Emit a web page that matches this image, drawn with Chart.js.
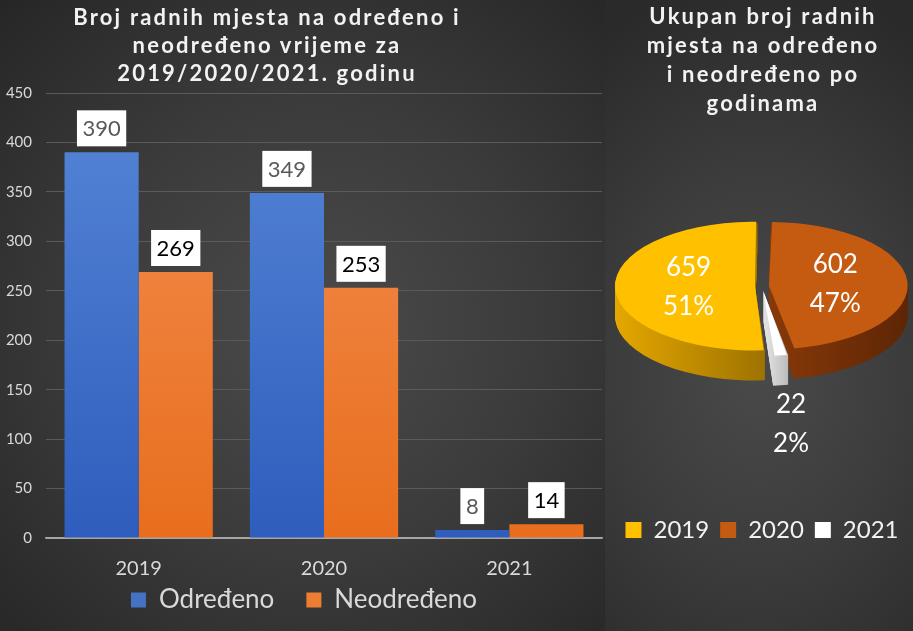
<!DOCTYPE html>
<html><head><meta charset="utf-8">
<script src="https://cdn.jsdelivr.net/npm/chart.js@4.4.1/dist/chart.umd.min.js"></script>
<style>
html,body{margin:0;padding:0;background:#2a2a2a;}
#wrap{position:relative;width:913px;height:631px;overflow:hidden;font-family:Lato,sans-serif;}
#left{position:absolute;left:0;top:0;width:605px;height:631px;background:radial-gradient(ellipse 75% 72% at 52% 52%, #4b4b4b 0%, #3b3b3b 50%, #262626 100%);}
#right{position:absolute;left:605px;top:0;width:308px;height:631px;background:radial-gradient(ellipse 95% 62% at 50% 58%, #4a4a4a 0%, #3c3c3c 50%, #2a2a2a 100%);}
.title{position:absolute;font-weight:bold;color:#f2f2f2;text-align:center;letter-spacing:2.2px;font-size:22px;line-height:28px;font-family:Lato,sans-serif;}
canvas{position:absolute;left:0;top:0;}
</style></head><body>
<div id="wrap">
 <div id="left"><canvas id="bar" width="605" height="631" style="width:605px;height:631px"></canvas>
  <div class="title" style="left:0;top:3px;width:534px;">Broj radnih mjesta na određeno i<br>neodređeno vrijeme za<br>2019/2020/2021. godinu</div></div>
 <div id="right"><canvas id="pie" width="308" height="631" style="width:308px;height:631px"></canvas>
  <div class="title" style="left:8px;top:1px;width:300px;line-height:29px;">Ukupan broj radnih<br>mjesta na određeno<br>i neodređeno po<br>godinama</div></div>
</div>
<script>
// ---- data ----
const categories = ['2019', '2020', '2021'];
const seriesNames = ['Određeno', 'Neodređeno'];
const odredjeno = [390, 349, 8];
const neodredjeno = [269, 253, 14];
const yMin = 0, yMax = 450, yStep = 50;
const pieLabels = ['2019', '2020', '2021'];
const pieValues = [659, 602, 22];

Chart.defaults.font.family = 'Lato';

// ---- bar chart ----
function vGrad(top, bottom) {
  return (c) => {
    const a = c.chart.chartArea;
    if (!a) return top;
    const g = c.chart.ctx.createLinearGradient(0, a.top, 0, a.bottom);
    g.addColorStop(0, top); g.addColorStop(1, bottom);
    return g;
  };
}
const barSolid = ['#4472c4', '#ed7d31'];

const barLabels = {
  id: 'barLabels',
  afterDatasetsDraw(chart) {
    const ctx = chart.ctx;
    ctx.save();
    ctx.font = '22px Lato';
    ctx.textAlign = 'center';
    ctx.textBaseline = 'middle';
    chart.data.datasets.forEach((ds, di) => {
      const meta = chart.getDatasetMeta(di);
      meta.data.forEach((bar, i) => {
        const txt = String(ds.data[i]);
        const w = ctx.measureText(txt).width + 11;
        const h = 36;
        const yb = bar.y - 6;
        ctx.fillStyle = '#ffffff';
        ctx.fillRect(bar.x - w / 2, yb - h, w, h);
        ctx.fillStyle = di === 0 ? '#595959' : '#000000';
        ctx.fillText(txt, bar.x, yb - h / 2 + 1);
      });
    });
    ctx.restore();
  }
};

// legend sits closer to the axis labels than Chart.js' default stacking allows
const legendTweak = {
  id: 'legendTweak',
  beforeLayout(chart, args, opts) {
    const lg = chart.legend;
    if (lg && !lg.__patched) {
      const orig = lg.fit;
      lg.fit = function () { orig.call(this); this.height = opts.height; };
      lg.__patched = true;
    }
  },
  afterLayout(chart, args, opts) {
    const lg = chart.legend;
    if (lg) { lg.top -= opts.shift; }
  }
};

new Chart(document.getElementById('bar'), {
  type: 'bar',
  data: {
    labels: categories,
    datasets: [
      { label: seriesNames[0], data: odredjeno, backgroundColor: vGrad('#5686d6', '#2e5dbd'), categoryPercentage: 0.8, barPercentage: 1.0 },
      { label: seriesNames[1], data: neodredjeno, backgroundColor: vGrad('#f38e52', '#e86e1d'), categoryPercentage: 0.8, barPercentage: 1.0 }
    ]
  },
  options: {
    responsive: false, animation: false,
    layout: { padding: { top: 93, left: 6, right: 3, bottom: 8 } },
    plugins: {
      title: { display: false },
      tooltip: { enabled: false },
      legendTweak: { height: 40, shift: 28 },
      legend: {
        position: 'bottom',
        labels: {
          color: '#d9d9d9', font: { family: 'Lato', size: 26 }, boxWidth: 15, boxHeight: 15, padding: 32,
          generateLabels: (chart) => chart.data.datasets.map((ds, i) => ({
            text: ds.label, fillStyle: barSolid[i], strokeStyle: barSolid[i], lineWidth: 0, fontColor: '#d9d9d9', datasetIndex: i, hidden: false
          }))
        }
      }
    },
    scales: {
      x: {
        grid: { display: false, drawTicks: false },
        border: { display: true, color: '#a6a6a6', width: 1.5 },
        ticks: { color: '#d9d9d9', font: { family: 'Lato', size: 20 }, padding: 19 },
        afterFit: (s) => { s.height = 45; }
      },
      y: {
        min: yMin, max: yMax,
        ticks: { stepSize: yStep, color: '#d9d9d9', font: { family: 'Lato', size: 15 }, padding: 14 },
        grid: { color: (c) => c.tick && c.tick.value === 0 ? '#a6a6a6' : '#5a5a5a', drawTicks: false, lineWidth: 1 },
        border: { display: false },
        afterFit: (s) => { s.width = 40; }
      }
    }
  },
  plugins: [barLabels, legendTweak]
});

// ---- 3D pie ----
const TILT = 0.46, DEPTH = 30;
const pieTop = ['#ffc000', '#c55a11', '#ffffff'];

function slicePath(ctx, arc) {
  const off = (arc.options.offset || 0) / 4;
  const circ = arc.endAngle - arc.startAngle;
  const fix = 1 - Math.sin(Math.min(Math.PI, circ));
  const r = arc.outerRadius + off * fix;
  const mid = (arc.startAngle + arc.endAngle) / 2;
  const x = arc.x + Math.cos(mid) * off, y = arc.y + Math.sin(mid) * off;
  ctx.beginPath(); ctx.moveTo(x, y); ctx.arc(x, y, r, arc.startAngle, arc.endAngle); ctx.closePath();
}
function sideFill(ctx, i, cx) {
  const stops = [['#e6a800', '#9a7000'], ['#8a3a08', '#5c2505'], ['#e0e0e0', '#b5b5b5']][i];
  const ranges = [[cx - 150, cx + 10], [cx, cx + 150], [cx + 5, cx + 30]][i];
  const g = ctx.createLinearGradient(ranges[0], 0, ranges[1], 0);
  g.addColorStop(0, stops[0]); g.addColorStop(1, stops[1]);
  return g;
}

const pie3d = {
  id: 'pie3d',
  beforeDatasetsDraw(chart) {
    const ctx = chart.ctx;
    const meta = chart.getDatasetMeta(0);
    const cx = meta.data[0].x, cy = meta.data[0].y;
    for (let d = DEPTH; d >= 1; d--) {
      ctx.save();
      ctx.translate(cx, cy + d); ctx.scale(1, TILT); ctx.translate(-cx, -cy);
      meta.data.forEach((arc, i) => {
        ctx.fillStyle = sideFill(ctx, i, cx);
        slicePath(ctx, arc); ctx.fill();
      });
      ctx.restore();
    }
    ctx.save();
    ctx.translate(cx, cy); ctx.scale(1, TILT); ctx.translate(-cx, -cy);
  },
  afterDatasetsDraw(chart) {
    const ctx = chart.ctx;
    ctx.restore();
    const meta = chart.getDatasetMeta(0);
    const total = pieValues.reduce((a, b) => a + b, 0);
    ctx.save();
    ctx.font = '26px Lato';
    ctx.fillStyle = '#ffffff';
    ctx.textAlign = 'center'; ctx.textBaseline = 'middle';
    meta.data.forEach((arc, i) => {
      const off = (arc.options.offset || 0) / 4;
      const mid = (arc.startAngle + arc.endAngle) / 2;
      const frac = pieValues[i] / total;
      let dist, extra = 0;
      if (frac < 0.05) { dist = arc.outerRadius * 1.77; extra = DEPTH; }
      else dist = off + arc.outerRadius * 0.5;
      const x = arc.x + Math.cos(mid) * dist;
      const y = arc.y + Math.sin(mid) * dist * TILT + extra;
      ctx.fillText(String(pieValues[i]), x, y - 19);
      ctx.fillText(Math.round(frac * 100) + '%', x, y + 20);
    });
    ctx.restore();
  }
};

new Chart(document.getElementById('pie'), {
  type: 'pie',
  data: {
    labels: pieLabels,
    datasets: [{ data: pieValues, backgroundColor: pieTop, borderWidth: 0, offset: [28, 28, 40], radius: 133, clip: false }]
  },
  options: {
    responsive: false, animation: false, rotation: 176,
    layout: { padding: { top: 65, bottom: 79, left: 6, right: 0 } },
    plugins: {
      tooltip: { enabled: false },
      legend: {
        position: 'bottom',
        labels: { color: '#f2f2f2', font: { family: 'Lato', size: 24 }, boxWidth: 16, boxHeight: 16, padding: 11 }
      }
    }
  },
  plugins: [pie3d]
});
</script>
</body></html>
